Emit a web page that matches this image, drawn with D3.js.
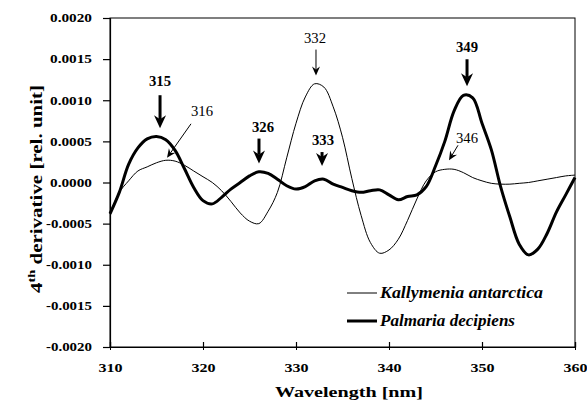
<!DOCTYPE html>
<html><head><meta charset="utf-8">
<script src="https://cdn.jsdelivr.net/npm/d3@7"></script>
<style>
html,body{margin:0;padding:0;background:#fff;}
svg{display:block;}
</style></head>
<body>
<svg id="chart" width="587" height="403"></svg>
<script>
// ---- data ----
const wavelengths = d3.range(310, 361, 1);
const kallymenia = [
  -0.00038, -0.00012, 0.00002, 0.00014, 0.00019, 0.00024, 0.00027, 0.00026, 0.00021, 0.00014,
  0.00007, 0.00000, -0.00010, -0.00023, -0.00037, -0.00047, -0.00050, -0.00035, -0.00012, 0.00030,
  0.00072, 0.00104, 0.00120, 0.00116, 0.00092, 0.00055, 0.00005, -0.00040, -0.00073, -0.00086,
  -0.00082, -0.00069, -0.00046, -0.00020, 0.00002, 0.00013, 0.00016, 0.00016, 0.00012, 0.00006,
  0.00002, -0.00001, -0.00002, -0.00002, -0.00001, 0.00000, 0.00002, 0.00004, 0.00006, 0.00008,
  0.00009
];
const palmaria = [
  -0.00038, -0.00012, 0.00022, 0.00042, 0.00053, 0.00056, 0.00052, 0.00039, 0.00017, -0.00006,
  -0.00022, -0.00026, -0.00018, -0.00008, 0.00000, 0.00008, 0.00013, 0.00011, 0.00004, -0.00004,
  -0.00008, -0.00005, 0.00002, 0.00004, -0.00002, -0.00006, -0.00010, -0.00012, -0.00010, -0.00009,
  -0.00015, -0.00021, -0.00017, -0.00015, -0.00005, 0.00020, 0.00050, 0.00087, 0.00106, 0.00103,
  0.00072, 0.00040, -0.00005, -0.00042, -0.00075, -0.00088, -0.00081, -0.00062, -0.00036, -0.00015,
  0.00006
];
const seriesNames = ["Kallymenia antarctica", "Palmaria decipiens"];
const xTicks = [310, 320, 330, 340, 350, 360];
const yTicks = [-0.0020, -0.0015, -0.0010, -0.0005, 0.0000, 0.0005, 0.0010, 0.0015, 0.0020];
// peak annotations: label, wavelength & value at arrow tip, bold?
const annLabels = ["315", "316", "326", "332", "333", "349", "346"];
const annWl     = [315.38, 316.13, 326.02, 332.15, 332.8, 348.39, 346.45];
const annVal    = [0.00066, 0.00030, 0.00023, 0.00130, 0.00020, 0.00117, 0.00027];
const annBold   = [true, false, true, false, true, true, false];

const FONT = '"Liberation Serif"';

// ---- layout ----
const L = 110, R = 575, T = 18, B = 347;
const svg = d3.select("#chart");
const x = d3.scaleLinear().domain([310, 360]).range([L, R]);
const y = d3.scaleLinear().domain([-0.002, 0.002]).range([B, T]);

// frame
svg.append("rect").attr("x", L).attr("y", T).attr("width", R - L).attr("height", B - T)
  .attr("fill", "none").attr("stroke", "#000").attr("stroke-width", 1);

// y axis
const yFmt = d => (Math.abs(d) < 1e-12 ? 0 : d).toFixed(4);
const yAxis = d3.axisLeft(y).tickValues(yTicks).tickSize(7).tickPadding(11).tickFormat(yFmt);
const gy = svg.append("g").attr("transform", `translate(${L},0)`).call(yAxis);
gy.attr("font-family", null);
gy.select(".domain").attr("stroke-width", 1.2);
gy.selectAll(".tick line").attr("stroke-width", 1.2);
gy.selectAll("text").attr("font-size", 12).attr("font-weight", "bold")
  .style("font-family", FONT)
  .attr("lengthAdjust", "spacingAndGlyphs")
  .attr("textLength", d => yFmt(d).length === 7 ? 46 : 42);

// x axis
const xAxis = d3.axisBottom(x).tickValues(xTicks).tickSize(-5).tickPadding(14).tickFormat(d3.format("d"));
const gx = svg.append("g").attr("transform", `translate(0,${B})`).call(xAxis);
gx.attr("font-family", null);
gx.select(".domain").attr("stroke-width", 1.2);
gx.selectAll(".tick line").attr("stroke-width", 1.2);
gx.selectAll("text").attr("font-size", 12.5).attr("font-weight", "bold")
  .attr("y", 25).attr("dy", 0)
  .style("font-family", FONT)
  .attr("lengthAdjust", "spacingAndGlyphs").attr("textLength", 24);
gx.selectAll(".tick").append("line").attr("y1", 0).attr("y2", 3).attr("stroke", "#000");

// axis titles
svg.append("text").attr("x", 349).attr("y", 397).attr("text-anchor", "middle")
  .style("font-family", FONT)
  .attr("font-size", 15.5).attr("font-weight", "bold")
  .attr("lengthAdjust", "spacingAndGlyphs").attr("textLength", 148)
  .text("Wavelength [nm]");
const yt = svg.append("text").attr("transform", "translate(42,189) rotate(-90)")
  .style("font-family", FONT)
  .attr("text-anchor", "middle").attr("font-size", 16).attr("font-weight", "bold")
  .attr("lengthAdjust", "spacingAndGlyphs").attr("textLength", 208);
yt.append("tspan").text("4");
yt.append("tspan").attr("font-size", 11).attr("dy", -7).text("th");
yt.append("tspan").attr("dy", 7).text(" derivative [rel. unit]");

// lines
const line = d3.line().x((d, i) => x(wavelengths[i])).y(d => y(d)).curve(d3.curveCatmullRom.alpha(0.5));
const plot = svg.append("g");
plot.append("path").datum(kallymenia).attr("d", line).attr("fill", "none")
  .attr("stroke", "#000").attr("stroke-width", 1);
plot.append("path").datum(palmaria).attr("d", line).attr("fill", "none")
  .attr("stroke", "#000").attr("stroke-width", 3).attr("stroke-linejoin", "round");

// annotations
function arrow(g, x1, y1, x2, y2, bold) {
  const w = bold ? 3 : 1;
  const hl = bold ? 13 : 9, hw = bold ? 6 : 4, notch = bold ? 4 : 3;
  const a = Math.atan2(y2 - y1, x2 - x1);
  const ux = Math.cos(a), uy = Math.sin(a), px = -uy, py = ux;
  g.append("line").attr("x1", x1).attr("y1", y1)
    .attr("x2", x2 - ux * (hl - notch)).attr("y2", y2 - uy * (hl - notch))
    .attr("stroke", "#000").attr("stroke-width", w);
  const pts = [
    [x2, y2],
    [x2 - ux * hl + px * hw, y2 - uy * hl + py * hw],
    [x2 - ux * (hl - notch), y2 - uy * (hl - notch)],
    [x2 - ux * hl - px * hw, y2 - uy * hl - py * hw]
  ];
  g.append("path").attr("d", "M" + pts.map(p => p.join(",")).join("L") + "Z").attr("fill", "#000");
}
const ann = svg.append("g");
// tail offsets (px) and label offsets (px) relative to arrow tip
const tailOff = [[0, -33], [24, -34], [0, -25], [0, -26], [0, -14], [0, -27], [9, -15]];
const labOff  = [[0, -42], [35, -42], [4, -32], [-1, -33], [1, -21], [0, -34], [18, -17]];
annLabels.forEach((lab, i) => {
  const tx = x(annWl[i]), ty = y(annVal[i]);
  arrow(ann, tx + tailOff[i][0], ty + tailOff[i][1], tx, ty, annBold[i]);
  ann.append("text").attr("x", tx + labOff[i][0]).attr("y", ty + labOff[i][1])
    .style("font-family", FONT)
    .attr("text-anchor", "middle").attr("font-size", 14)
    .attr("font-weight", annBold[i] ? "bold" : "normal")
    .attr("lengthAdjust", "spacingAndGlyphs").attr("textLength", 22)
    .text(lab);
});

// legend
const leg = svg.append("g");
const legY = [293, 321], legLen = [163, 135], legW = [1, 3];
seriesNames.forEach((n, i) => {
  leg.append("line").attr("x1", 347).attr("x2", 377).attr("y1", legY[i]).attr("y2", legY[i])
    .attr("stroke", "#000").attr("stroke-width", legW[i]);
  leg.append("text").attr("x", 380).attr("y", legY[i] + 5).attr("font-size", 16)
    .style("font-family", FONT)
    .attr("font-weight", "bold").attr("font-style", "italic")
    .attr("lengthAdjust", "spacingAndGlyphs")
    .attr("textLength", legLen[i]).text(n);
});
</script>
</body></html>
